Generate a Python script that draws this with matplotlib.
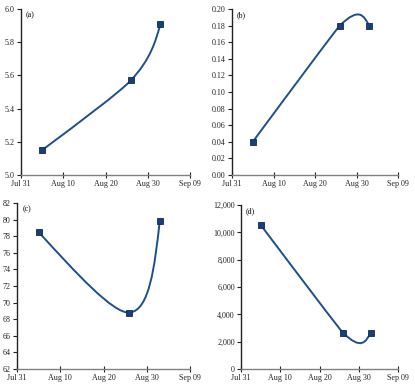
import datetime as dt
import numpy as np
import matplotlib
matplotlib.use("Agg")
import matplotlib.pyplot as plt
import matplotlib.dates as mdates
from matplotlib.path import Path
from matplotlib.patches import PathPatch
from matplotlib.ticker import FuncFormatter

plt.rcParams['font.family'] = ['Liberation Serif', 'DejaVu Serif']

# sampling dates (same for all panels)
dates = [dt.date(2000, 8, 5), dt.date(2000, 8, 26), dt.date(2000, 9, 2)]

vals_a = [5.15, 5.57, 5.91]
vals_b = [0.04, 0.18, 0.18]
vals_c = [78.5, 68.8, 79.8]
vals_d = [10550, 2650, 2650]

labels = ["(a)", "(b)", "(c)", "(d)"]
ylims = [(5.0, 6.0), (0.0, 0.20), (62, 82), (0, 12000)]
ysteps = [0.2, 0.02, 2, 2000]
yfmts = ["{:.1f}", "{:.2f}", "{:.0f}", "{:,.0f}"]

xticks = [dt.date(2000, 7, 31), dt.date(2000, 8, 10), dt.date(2000, 8, 20),
          dt.date(2000, 8, 30), dt.date(2000, 9, 9)]
xlabels = ["Jul 31", "Aug 10", "Aug 20", "Aug 30", "Sep 09"]

line_col = "#1f4e8c"
mark_col = "#1a3f78"


def smooth_path(ax, x, y, k=1 / 6, m=0.5):
    # excel-like smoothed line, built in screen space so the handle
    # lengths depend on how long the neighbouring segments look
    p = ax.transData.transform(np.column_stack([x, y]))
    n = len(p)
    seg = np.hypot(*np.diff(p, axis=0).T)
    c1s = [None] * (n - 1)
    c2s = [None] * (n - 1)
    for i in range(1, n - 1):
        tang = k * (p[i + 1] - p[i - 1])
        c2s[i - 1] = p[i] - tang * min(1, seg[i] / seg[i - 1])
        c1s[i] = p[i] + tang * min(1, seg[i - 1] / seg[i])
    for i in range(n - 1):
        if c1s[i] is None:
            other = c2s[i] if c2s[i] is not None else p[i + 1]
            c1s[i] = p[i] + m * (other - p[i])
        if c2s[i] is None:
            c2s[i] = p[i + 1] + m * (c1s[i] - p[i + 1])
    verts = [p[0]]
    codes = [Path.MOVETO]
    for i in range(n - 1):
        verts += [c1s[i], c2s[i], p[i + 1]]
        codes += [Path.CURVE4] * 3
    verts = ax.transData.inverted().transform(np.array(verts))
    return Path(verts, codes)


fig = plt.figure(figsize=(4.15, 3.84), dpi=100)
W, H = 415, 384
# axes boxes in pixels: left, top, right, bottom
boxes = [(21, 9, 190, 175), (232, 9, 398, 175),
         (17, 203, 190, 369), (241, 205, 398, 369)]

series = [vals_a, vals_b, vals_c, vals_d]
xnum = mdates.date2num(dates)

for vals, lab, yl, ys, fmt, (l, t, r, b) in zip(series, labels, ylims, ysteps, yfmts, boxes):
    ax = fig.add_axes([l / W, 1 - b / H, (r - l) / W, (b - t) / H])
    ax.set_xlim(mdates.date2num(xticks[0]), mdates.date2num(xticks[-1]))
    ax.set_ylim(*yl)
    ax.set_xticks(mdates.date2num(xticks))
    ax.set_xticklabels(xlabels)
    ax.set_yticks(np.arange(yl[0], yl[1] + ys / 2, ys))
    ax.yaxis.set_major_formatter(FuncFormatter(lambda v, pos, f=fmt: f.format(v)))
    ax.tick_params(labelsize=5.8, length=3, width=0.8, pad=1.5, colors="#222222")
    ax.tick_params(axis="x", direction="inout", length=4)
    for s in ["top", "right"]:
        ax.spines[s].set_visible(False)
    ax.spines["left"].set_color("#222222")
    ax.spines["bottom"].set_color("#808080")
    ax.spines["left"].set_linewidth(1.0)
    ax.spines["bottom"].set_linewidth(1.0)

    ax.add_patch(PathPatch(smooth_path(ax, xnum, vals), facecolor="none",
                           edgecolor=line_col, lw=1.4, zorder=2))
    ax.plot(xnum, vals, linestyle="none", marker="s", ms=4.4,
            color=mark_col, mec="#0d2a55", mew=0.6, zorder=3)
    ax.text(0.03, 0.985, lab, transform=ax.transAxes, fontsize=5.8,
            va="top", ha="left")

fig.savefig("out.png", dpi=100)
